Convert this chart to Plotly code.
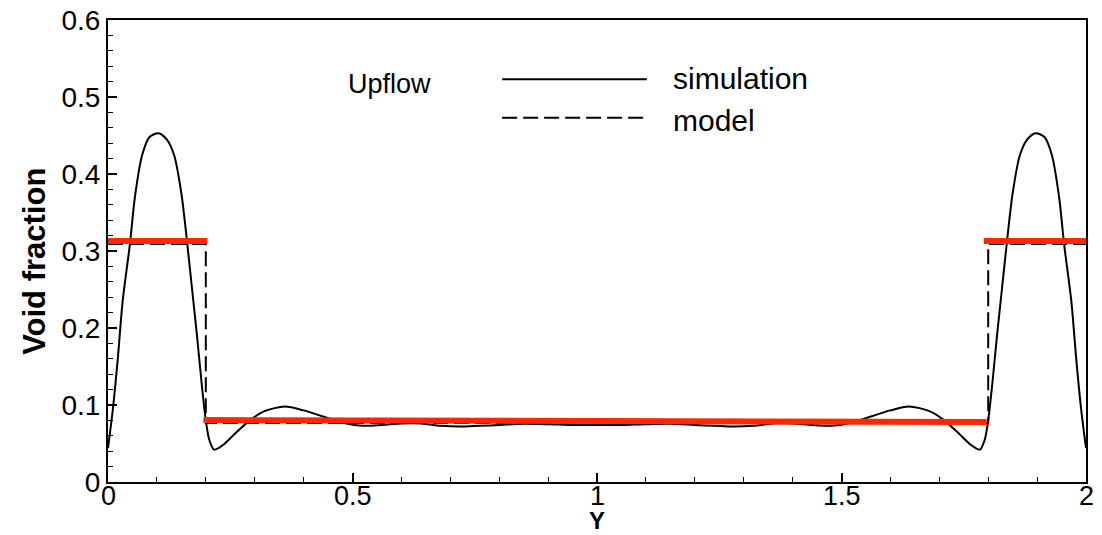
import plotly.graph_objects as go

# Simulated void fraction profile across the channel
sim_y = [0.000, 0.010, 0.020, 0.030, 0.045, 0.055, 0.070, 0.085, 0.103, 0.120,
         0.135, 0.150, 0.162, 0.172, 0.182, 0.192, 0.200, 0.207, 0.217, 0.235,
         0.260, 0.290, 0.320, 0.362, 0.400, 0.440, 0.480, 0.520, 0.560, 0.600,
         0.640, 0.680, 0.720, 0.760, 0.800, 0.850, 0.900, 0.950, 1.000,
         1.050, 1.100, 1.150, 1.200, 1.240, 1.280, 1.320, 1.360, 1.400, 1.440,
         1.480, 1.520, 1.560, 1.600, 1.638, 1.680, 1.710, 1.740, 1.765, 1.783,
         1.793, 1.800, 1.808, 1.818, 1.828, 1.838, 1.850, 1.865, 1.880, 1.897,
         1.915, 1.930, 1.945, 1.955, 1.970, 1.980, 1.990, 2.000]
sim_alpha = [0.044, 0.095, 0.160, 0.235, 0.310, 0.370, 0.425, 0.448, 0.453, 0.445,
             0.425, 0.375, 0.310, 0.250, 0.190, 0.125, 0.080, 0.055, 0.042, 0.048,
             0.063, 0.080, 0.092, 0.098, 0.093, 0.085, 0.077, 0.073, 0.074, 0.076,
             0.076, 0.073, 0.072, 0.073, 0.074, 0.0755, 0.075, 0.074, 0.074,
             0.074, 0.075, 0.0755, 0.074, 0.073, 0.072, 0.073, 0.076, 0.076, 0.074,
             0.073, 0.077, 0.085, 0.093, 0.098, 0.092, 0.080, 0.063, 0.048, 0.042,
             0.055, 0.080, 0.125, 0.190, 0.250, 0.310, 0.375, 0.425, 0.445, 0.453,
             0.448, 0.425, 0.370, 0.310, 0.235, 0.160, 0.095, 0.044]

# Step model (dashed)
model_y = [0.0, 0.2, 0.2, 1.8, 1.8, 2.0]
model_alpha = [0.309, 0.309, 0.0766, 0.0766, 0.309, 0.309]

# Averaged levels (red bars): wall peaks and core
wall_left_y = [0.0, 0.203]
wall_left_alpha = [0.313, 0.313]
core_y = [0.195, 1.797]
core_alpha = [0.0805, 0.078]
wall_right_y = [1.791, 2.0]
wall_right_alpha = [0.313, 0.313]

x_ticks = [0, 0.5, 1, 1.5, 2]
x_ticktext = ["0", "0.5", "1", "1.5", "2"]
y_ticks = [0, 0.1, 0.2, 0.3, 0.4, 0.5, 0.6]
y_ticktext = ["0", "0.1", "0.2", "0.3", "0.4", "0.5", "0.6"]

FONT = "Liberation Sans, Arial, Helvetica, sans-serif"
RED = "#FF2800"
DASH = "15px,6px"

fig = go.Figure()
fig.add_trace(go.Scatter(x=sim_y, y=sim_alpha, mode="lines",
                         line=dict(color="black", width=2, shape="spline", smoothing=0.8),
                         showlegend=False))
fig.add_trace(go.Scatter(x=model_y, y=model_alpha, mode="lines",
                         line=dict(color="black", width=2, dash=DASH),
                         showlegend=False))
for xs, ys in [(wall_left_y, wall_left_alpha), (core_y, core_alpha),
               (wall_right_y, wall_right_alpha)]:
    fig.add_trace(go.Scatter(x=xs, y=ys, mode="lines",
                             line=dict(color=RED, width=6), showlegend=False))

# Legend drawn inside the plot area
fig.add_shape(type="line", xref="x", yref="y", x0=0.806, x1=1.102, y0=0.523, y1=0.523,
              line=dict(color="black", width=2))
fig.add_shape(type="line", xref="x", yref="y", x0=0.806, x1=1.102, y0=0.473, y1=0.473,
              line=dict(color="black", width=2, dash=DASH))
fig.add_annotation(x=1.152, y=0.524, xref="x", yref="y", text="simulation",
                   showarrow=False, xanchor="left", yanchor="middle",
                   font=dict(family=FONT, size=30, color="black"))
fig.add_annotation(x=1.152, y=0.470, xref="x", yref="y", text="model",
                   showarrow=False, xanchor="left", yanchor="middle",
                   font=dict(family=FONT, size=30, color="black"))
fig.add_annotation(x=0.487, y=0.517, xref="x", yref="y", text="Upflow",
                   showarrow=False, xanchor="left", yanchor="middle",
                   font=dict(family=FONT, size=27, color="black"))

# X tick labels, set just below the axis line
for xv, lab in zip(x_ticks, x_ticktext):
    fig.add_annotation(x=xv, y=0, xref="x", yref="paper", text=lab,
                       showarrow=False, xanchor="center", yanchor="middle",
                       yshift=-14, borderpad=0,
                       font=dict(family=FONT, size=27, color="black"))

# Axis titles placed in the margins
fig.add_annotation(x=0.5, y=0, xref="paper", yref="paper", text="<b>Y</b>",
                   showarrow=False, xanchor="center", yanchor="middle",
                   yshift=-38, borderpad=0,
                   font=dict(family=FONT, size=24, color="black"))
fig.add_annotation(x=-0.075, y=0.478, xref="paper", yref="paper", text="<b>Void fraction</b>",
                   showarrow=False, xanchor="center", yanchor="middle", textangle=-90,
                   font=dict(family=FONT, size=31, color="black"))

fig.update_layout(
    width=1102, height=535,
    margin=dict(l=108, r=16, t=20, b=53, autoexpand=False),
    paper_bgcolor="white", plot_bgcolor="white",
    font=dict(family=FONT, color="black"),
    showlegend=False,
)
fig.update_xaxes(
    range=[0, 2], tickvals=x_ticks, showticklabels=False, automargin=False,
    showline=True, linecolor="black", linewidth=2, mirror=True,
    ticks="inside", ticklen=9, tickwidth=2, tickcolor="black",
    minor=dict(dtick=0.1, ticks="inside", ticklen=5, tickwidth=1, tickcolor="black"),
    showgrid=False, zeroline=False,
)
fig.update_yaxes(
    range=[0, 0.6], tickvals=y_ticks, ticktext=y_ticktext, automargin=False,
    showline=True, linecolor="black", linewidth=2, mirror=True,
    ticks="inside", ticklen=9, tickwidth=2, tickcolor="black",
    minor=dict(dtick=0.02, ticks="inside", ticklen=5, tickwidth=1, tickcolor="black"),
    showgrid=False, zeroline=False,
    tickfont=dict(family=FONT, size=28),
)

fig.write_html("out.html")
